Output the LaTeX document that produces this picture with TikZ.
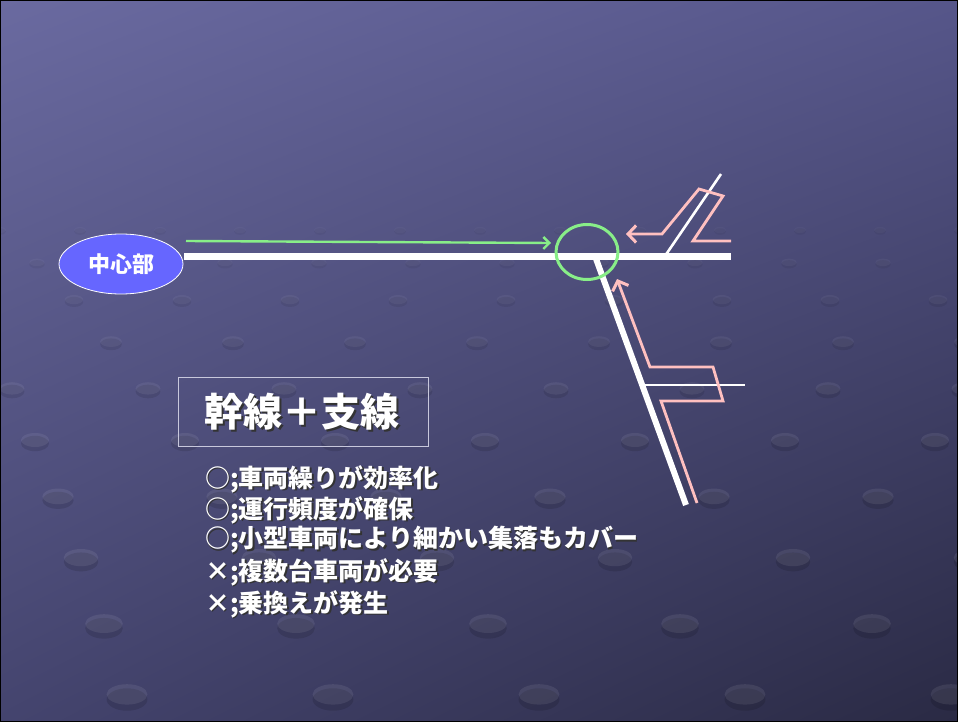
\documentclass[tikz,border=0pt]{standalone}
\usepackage{fontspec}
\setmainfont{Noto Sans CJK JP}
\usetikzlibrary{shapes.geometric,arrows.meta,shadings}
\definecolor{bgUL}{HTML}{6A6AA0}
\definecolor{bgUR}{HTML}{56568A}
\definecolor{bgLL}{HTML}{44446E}
\definecolor{bgLR}{HTML}{2A2A44}
\definecolor{hubfill}{HTML}{6666FF}
\definecolor{greenln}{HTML}{88EE88}
\definecolor{pinkln}{HTML}{FFC0C0}
\definecolor{boxln}{HTML}{C8C8DC}
\tikzset{
  trunkline/.style={draw=white,line width=7pt},
  branchline/.style={draw=white,line width=6pt},
  thinline/.style={draw=white,line width=2.6pt},
  pinkarrow/.style={draw=pinkln,line width=2.8pt,line join=miter,-{Straight Barb[length=8pt,width=17pt,line width=3pt]}},
  greenarrow/.style={draw=greenln,line width=2.4pt,-{Straight Barb[length=6pt,width=12pt,line width=2.4pt]}},
  bodytxt/.style={anchor=west,inner sep=0pt,text=white,font=\bfseries\fontsize{25}{28}\selectfont},
  bodyshadow/.style={bodytxt,text=black!80},
  titletxt/.style={inner sep=0pt,text=white,font=\bfseries\fontsize{39}{42}\selectfont},
  titleshadow/.style={titletxt,text=black!80},
}
\begin{document}
\begin{tikzpicture}[x=1pt,y=-1pt]
\useasboundingbox (0,0) rectangle (958,722);
\shade[upper left=bgUL,upper right=bgUR,lower left=bgLL,lower right=bgLR] (0,0) rectangle (958,722);
\begin{scope}
\clip (0,0) rectangle (958,722);
\foreach \r in {0,...,10}{
  \pgfmathsetmacro\yy{230+\r*30+\r*\r*2.4}
  \pgfmathsetmacro\sx{80+\r*14}
  \pgfmathsetmacro\rx{6+\r*1.6}
  \pgfmathsetmacro\off{mod(\r*37,\sx)}
  \pgfmathsetmacro\op{min(1,0.35+\r*0.12)}
  \foreach \c in {-1,...,13}{
    \fill[black,opacity=0.12*\op] (\c*\sx+\off,\yy+0.25*\rx) ellipse [x radius=\rx,y radius=0.55*\rx];
    \fill[white,opacity=0.08*\op] (\c*\sx+\off,\yy) ellipse [x radius=\rx,y radius=0.5*\rx];
  }
}
\end{scope}
% hub
\node[ellipse,draw=white,line width=0.8pt,fill=hubfill,minimum width=124pt,minimum height=60pt,inner sep=0pt] (hub) at (121,264) {};
\node[text=white,font=\bfseries\fontsize{22}{26}\selectfont,inner sep=0pt] (hubtxt) at (121,264) {中心部};
% trunk
\coordinate (trW) at (184,256);
\coordinate (trE) at (731,256);
\draw[trunkline] (trW) -- (trE);
% SE branch
\coordinate (brA) at (595,256);
\coordinate (brB) at (686,505);
\draw[branchline] (brA) -- (brB);
\coordinate (sbA) at (642,385);
\coordinate (sbB) at (745,385);
\draw[thinline] (sbA) -- (sbB);
% NE branch
\coordinate (neA) at (665,256);
\coordinate (neB) at (721,174);
\draw[thinline] (neA) -- (neB);
% junction circle
\node[ellipse,draw=greenln,line width=3pt,minimum width=62pt,minimum height=55pt,inner sep=0pt] (junc) at (587,252) {};
% green arrow
\coordinate (gA) at (186,241);
\coordinate (gB) at (551,243);
\draw[greenarrow] (gA) -- (gB);
% pink arrows
\coordinate (p1) at (731,241);
\coordinate (p2) at (693,241);
\coordinate (p3) at (723,196);
\coordinate (p4) at (699,189);
\coordinate (p5) at (662,234);
\coordinate (p6) at (626,234);
\draw[pinkarrow] (p1) -- (p2) -- (p3) -- (p4) -- (p5) -- (p6);
\coordinate (q1) at (697,503);
\coordinate (q2) at (661,401);
\coordinate (q3) at (723,401);
\coordinate (q4) at (713,367);
\coordinate (q5) at (650,367);
\coordinate (q6) at (617,279);
\draw[pinkarrow] (q1) -- (q2) -- (q3) -- (q4) -- (q5) -- (q6);
% title box
\node[draw=boxln,line width=1pt,minimum width=250pt,minimum height=69pt,inner sep=0pt] (tbox) at (303,411.5) {};
\node[titleshadow] (titlesh) at (303.5,413.5) {幹線＋支線};
\node[titletxt] (title) at (302,412) {幹線＋支線};
% bullets
\node[bodyshadow] (l1s) at (206.5,480.5) {○;車両繰りが効率化};
\node[bodytxt] (l1) at (205,479) {○;車両繰りが効率化};
\node[bodyshadow] (l2s) at (206.5,511.5) {○;運行頻度が確保};
\node[bodytxt] (l2) at (205,510) {○;運行頻度が確保};
\node[bodyshadow] (l3s) at (206.5,541.5) {○;小型車両により細かい集落もカバー};
\node[bodytxt] (l3) at (205,540) {○;小型車両により細かい集落もカバー};
\node[bodyshadow] (l4s) at (206.5,573.5) {×;複数台車両が必要};
\node[bodytxt] (l4) at (205,572) {×;複数台車両が必要};
\node[bodyshadow] (l5s) at (206.5,605.5) {×;乗換えが発生};
\node[bodytxt] (l5) at (205,604) {×;乗換えが発生};
% frame
\draw[black,line width=2.5pt] (0,0) rectangle (958,722);
\end{tikzpicture}
\end{document}
